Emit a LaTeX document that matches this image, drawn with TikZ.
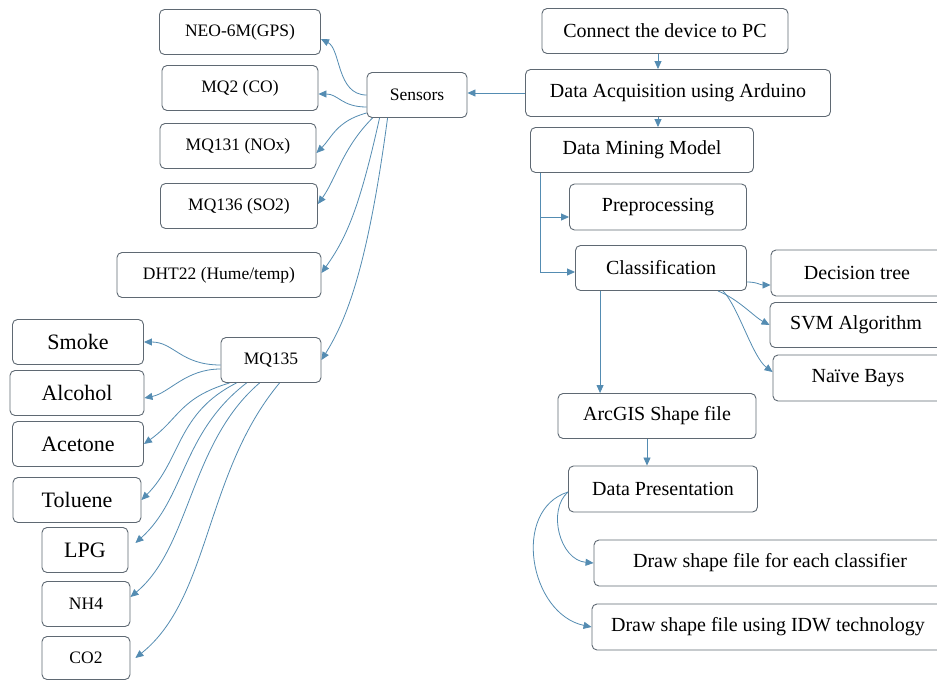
\documentclass[tikz,border=0pt]{standalone}
\usepackage{fontspec}
\setmainfont{Liberation Serif}
\usetikzlibrary{arrows.meta}
\definecolor{boxline}{RGB}{95,105,115}
\definecolor{arrowblue}{RGB}{84,140,178}

\begin{document}
\begin{tikzpicture}[x=1pt, y=1pt, >={Triangle[length=8pt,width=7pt]},
	box/.style={draw=boxline, line width=0.9pt, rounded corners=5pt, inner sep=0pt, minimum height=45pt, font=\fontsize{20}{24}\selectfont},
	smallbox/.style={box, font=\fontsize{17.5}{21}\selectfont},
	bigbox/.style={box, font=\fontsize{22}{26}\selectfont},
	flow/.style={draw=arrowblue, line width=0.8pt}]
	\path[use as bounding box, fill=white] (0,0) rectangle (937,-680);

	% sensor side
	\draw
	node[smallbox, minimum width=161pt] (neo) at (240,-32) {NEO-6M(GPS)}
	node[smallbox, minimum width=156pt] (mqtwo) at (240,-88) {MQ2 (CO)}
	node[smallbox, minimum width=156pt] (mqnox) at (238,-146) {MQ131 (NOx)}
	node[smallbox, minimum width=157pt] (mqso) at (239,-206) {MQ136 (SO2)}
	node[smallbox, minimum width=204pt] (dht) at (219,-275) {DHT22 (Hume/temp)}
	node[smallbox, minimum width=100pt] (sens) at (417,-95) {Sensors}
	node[smallbox, minimum width=100pt] (mqgas) at (271,-360) {MQ135};

	\draw
	node[bigbox, minimum width=131pt] (smoke) at (78,-342) {Smoke}
	node[bigbox, minimum width=134pt] (alcohol) at (77,-393) {Alcohol}
	node[bigbox, minimum width=131pt] (acetone) at (78,-444) {Acetone}
	node[bigbox, minimum width=128pt] (toluene) at (77,-500) {Toluene}
	node[bigbox, minimum width=86pt] (lpg) at (85,-550) {LPG}
	node[smallbox, minimum width=88pt] (nh) at (86,-604) {NH4}
	node[smallbox, minimum width=88pt, minimum height=43pt] (cotwo) at (86,-658) {CO2};

	% process side
	\draw
	node[box, minimum width=246pt] (connect) at (665,-31) {Connect the device to PC}
	node[box, minimum width=305pt, minimum height=47pt] (acq) at (678,-93) {Data Acquisition using Arduino}
	node[box, minimum width=223pt] (dmm) at (642,-150) {Data Mining Model}
	node[box, minimum width=177pt, minimum height=46pt] (pre) at (658,-207) {Preprocessing}
	node[box, minimum width=171pt] (cls) at (661,-268) {Classification}
	node[box, minimum width=172pt, minimum height=46pt] (dtree) at (857,-273) {Decision tree}
	node[box, minimum width=172pt] (svm) at (856,-325) {SVM Algorithm}
	node[box, minimum width=170pt, minimum height=46pt] (naive) at (858,-378) {Naïve Bays}
	node[box, minimum width=198pt] (arc) at (657,-416) {ArcGIS Shape file}
	node[box, minimum width=189pt, minimum height=46pt] (dpres) at (663,-489) {Data Presentation}
	node[box, minimum width=352pt, minimum height=46pt] (drawcls) at (770,-563) {Draw shape file for each classifier}
	node[box, minimum width=352pt, minimum height=46pt] (drawidw) at (768,-627) {Draw shape file using IDW technology};

	\draw[->, flow] ([xshift=-7pt]connect.south) -- ([xshift=-7pt]connect.south |- acq.north);
	\draw[->, flow] ([xshift=-20pt]acq.south) -- ([xshift=-20pt]acq.south |- dmm.north);
	\draw[->, flow] (acq.west) -- (acq.west -| sens.east);
	\draw[->, flow] ([xshift=10pt]dmm.south west) |- ([yshift=-10pt]pre.west);
	\draw[->, flow] ([xshift=10pt]dmm.south west) |- ([yshift=-4pt]cls.west);
	\draw[->, flow] ([xshift=25pt]cls.south west) -- ([xshift=25pt]cls.south west |- arc.north);
	\draw[->, flow] ([xshift=-10pt]arc.south) -- ([xshift=-10pt]arc.south |- dpres.north);

	\draw[->, flow] ([yshift=-14pt]cls.east) .. controls +(10,0) and +(-10,0) .. ([yshift=-12pt]dtree.west);
	\draw[->, flow] ([xshift=-29pt]cls.south east) .. controls +(20,-8) and +(-15,8) .. (svm.west);
	\draw[->, flow] ([xshift=-24pt]cls.south east) .. controls +(15,-15) and +(-20,15) .. ([yshift=6pt]naive.west);

	\draw[->, flow] ([yshift=-3pt]dpres.west) .. controls +(-21,-18) and +(-34,3) .. (drawcls.west);
	\draw[->, flow] ([yshift=-3pt]dpres.west) .. controls +(-57,-18) and +(-62,13) .. (drawidw.west);

	% sensors to modules
	\draw[->, flow] (sens.west) .. controls +(-30,0) and +(20,-10) .. ([yshift=-7pt]neo.east);
	\draw[->, flow] ([yshift=-12pt]sens.west) .. controls +(-25,0) and +(20,0) .. ([yshift=-6pt]mqtwo.east);
	\draw[->, flow] ([yshift=-18pt]sens.west) .. controls +(-30,-8) and +(15,15) .. ([yshift=-7pt]mqnox.east);
	\draw[->, flow] ([xshift=6pt]sens.south west) .. controls +(-30,-30) and +(18,25) .. ([yshift=2pt]mqso.east);
	\draw[->, flow] ([xshift=13pt]sens.south west) .. controls +(-20,-90) and +(25,35) .. ([yshift=2pt]dht.east);
	\draw[->, flow] ([xshift=21pt]sens.south west) .. controls +(-20,-150) and +(25,40) .. (mqgas.east);

	% MQ135 to gases
	\draw[->, flow] ([yshift=-5pt]mqgas.west) .. controls +(-40,0) and +(30,0) .. (smoke.east);
	\draw[->, flow] ([yshift=-9pt]mqgas.west) .. controls +(-35,0) and +(25,5) .. ([yshift=-5pt]alcohol.east);
	\draw[->, flow] ([xshift=9pt]mqgas.south west) .. controls +(-50,-15) and +(35,25) .. (acetone.east);
	\draw[->, flow] ([xshift=16pt]mqgas.south west) .. controls +(-60,-30) and +(40,40) .. (toluene.east);
	\draw[->, flow] ([xshift=26pt]mqgas.south west) .. controls +(-65,-50) and +(50,45) .. ([xshift=7pt,yshift=7pt]lpg.east);
	\draw[->, flow] ([xshift=39pt]mqgas.south west) .. controls +(-70,-60) and +(60,50) .. ([yshift=7pt]nh.east);
	\draw[->, flow] ([xshift=59pt]mqgas.south west) .. controls +(-75,-90) and +(75,60) .. ([xshift=5pt]cotwo.east);
\end{tikzpicture}
\end{document}
